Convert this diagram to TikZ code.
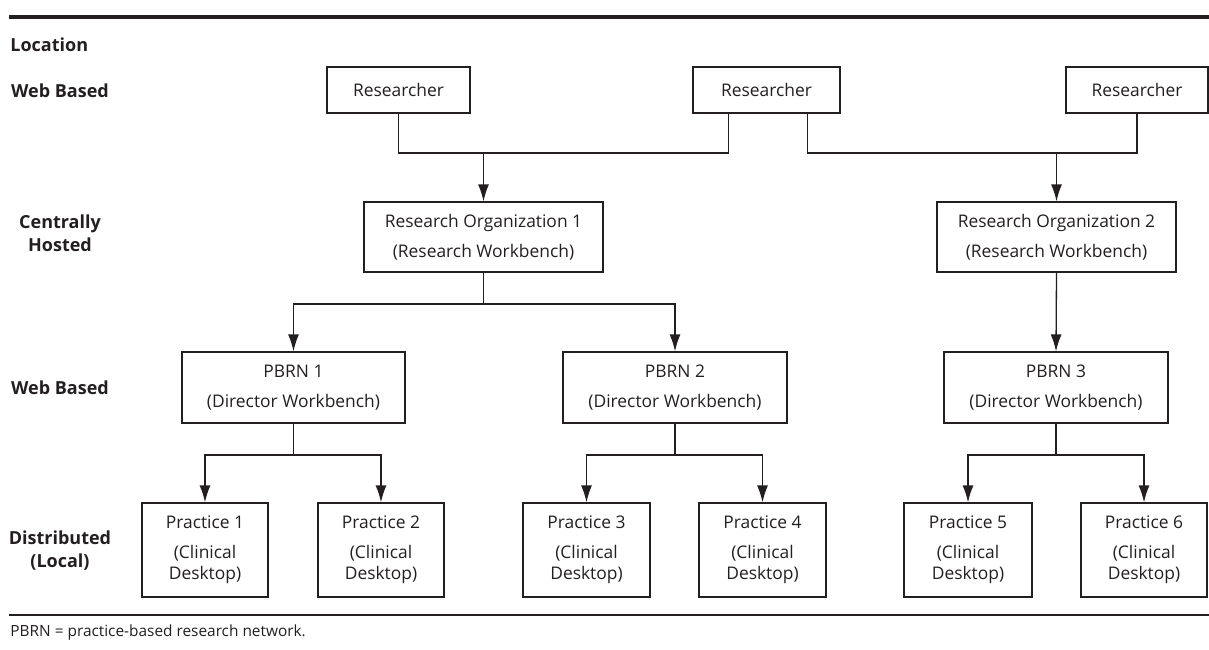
\documentclass[tikz,border=0pt]{standalone}
\usepackage{fontspec}
\setmainfont{Open Sans}
\usetikzlibrary{arrows.meta,calc}
\definecolor{ink}{RGB}{35,31,32}
\begin{document}
\begin{tikzpicture}[x=0.5pt,y=-0.5pt,
  every node/.style={text=ink},
  box/.style={draw=ink,line width=0.65pt,inner sep=0pt,align=center,
    font=\fontsize{8.7}{10.5}\selectfont},
  lvl/.style={align=center,font=\fontsize{9}{11.5}\selectfont\bfseries,inner sep=0pt},
  conn/.style={draw=ink,line width=0.65pt},
  arr/.style={conn,-{Latex[length=8.5pt,width=5.5pt]}}
]
\useasboundingbox (0,0) rectangle (1209,649);
% rules
\draw[ink,line width=2pt] (9,17) -- (1209,17);
\draw[ink,line width=0.65pt] (9,615) -- (1209,615);
% level labels
\node[lvl,anchor=west] (lloc) at (10,45) {Location};
\node[lvl] (lweb1) at (60,91) {Web Based};
\node[lvl] (lcen) at (60,233) {Centrally\\Hosted};
\node[lvl] (lweb2) at (60,388) {Web Based};
\node[lvl] (ldis) at (60,551) {Distributed\\(Local)};
% footnote
\node[anchor=west,inner sep=0pt,font=\fontsize{7.7}{9}\selectfont] (foot) at (10,632) {PBRN = practice-based research network.};
% researchers
\node[box,minimum width=71.5pt,minimum height=23pt] (R1) at (398.5,90) {Researcher};
\node[box,minimum width=73.5pt,minimum height=23pt] (R2) at (766.5,90) {Researcher};
\node[box,minimum width=71pt,minimum height=23pt] (R3) at (1137,90) {Researcher};
% research organizations
\node[box,minimum width=119.5pt,minimum height=35pt] (O1) at (483.5,237) {Research Organization 1\\[4.5pt](Research Workbench)};
\node[box,minimum width=119.5pt,minimum height=35pt] (O2) at (1056.5,237) {Research Organization 2\\[4.5pt](Research Workbench)};
% PBRNs
\node[box,minimum width=111.5pt,minimum height=35.5pt] (B1) at (293.5,387.5) {PBRN 1\\[4.5pt](Director Workbench)};
\node[box,minimum width=112pt,minimum height=35.5pt] (B2) at (675,387.5) {PBRN 2\\[4.5pt](Director Workbench)};
\node[box,minimum width=112pt,minimum height=35.5pt] (B3) at (1056,387.5) {PBRN 3\\[4.5pt](Director Workbench)};
% practices
\node[box,minimum width=63pt,minimum height=47pt] (P1) at (205,550) {Practice 1\\[4.5pt](Clinical\\Desktop)};
\node[box,minimum width=63pt,minimum height=47pt] (P2) at (381,550) {Practice 2\\[4.5pt](Clinical\\Desktop)};
\node[box,minimum width=63.5pt,minimum height=47pt] (P3) at (586.5,550) {Practice 3\\[4.5pt](Clinical\\Desktop)};
\node[box,minimum width=63.5pt,minimum height=47pt] (P4) at (762.5,550) {Practice 4\\[4.5pt](Clinical\\Desktop)};
\node[box,minimum width=64pt,minimum height=47pt] (P5) at (968,550) {Practice 5\\[4.5pt](Clinical\\Desktop)};
\node[box,minimum width=63pt,minimum height=47pt] (P6) at (1144,550) {Practice 6\\[4.5pt](Clinical\\Desktop)};
% junctions
\coordinate (j1) at (483.5,153);
\coordinate (j2) at (1056.5,153);
\coordinate (j3) at (483.5,304);
\coordinate (j4) at (293.5,455);
\coordinate (j5) at (675,455);
\coordinate (j6) at (1056,455);
% connectors
\draw[conn] (R1.south) |- (j1) -| ([xshift=18pt]R2.south west);
\draw[conn] ([xshift=-16.5pt]R2.south east) |- (j2) -| (R3.south);
\draw[arr] (j1) -- (O1.north);
\draw[arr] (j2) -- (O2.north);
\draw[conn] (O1.south) -- (j3);
\draw[arr] (j3) -| (B1.north);
\draw[arr] (j3) -| (B2.north);
\draw[arr] (O2.south) -- (B3.north);
\draw[conn] (B1.south) -- (j4);
\draw[arr] (j4) -| (P1.north);
\draw[arr] (j4) -| (P2.north);
\draw[conn] (B2.south) -- (j5);
\draw[arr] (j5) -| (P3.north);
\draw[arr] (j5) -| (P4.north);
\draw[conn] (B3.south) -- (j6);
\draw[arr] (j6) -| (P5.north);
\draw[arr] (j6) -| (P6.north);
\end{tikzpicture}
\end{document}
